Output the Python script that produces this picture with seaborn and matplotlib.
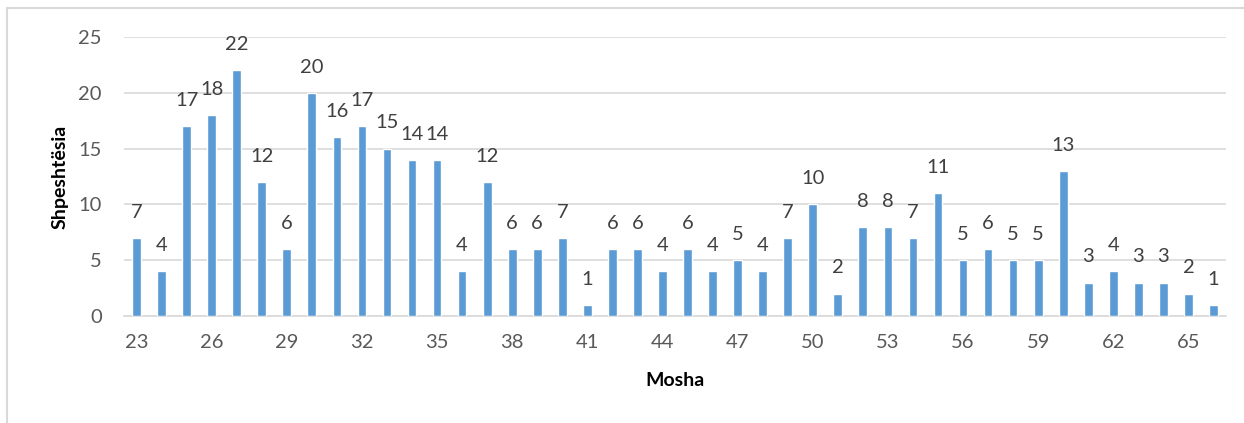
import matplotlib
matplotlib.use("Agg")
import matplotlib.pyplot as plt
import seaborn as sns
import pandas as pd
from matplotlib.patches import Rectangle

# Age distribution data
ages = list(range(23, 67))
counts = [7, 4, 17, 18, 22, 12, 6, 20, 16, 17, 15, 14, 14, 4, 12, 6, 6, 7, 1,
          6, 6, 4, 6, 4, 5, 4, 7, 10, 2, 8, 8, 7, 11, 5, 6, 5, 5, 13, 3, 4, 3,
          3, 2, 1]
x_label = "Mosha"
y_label = "Shpeshtësia"

df = pd.DataFrame({"age": [str(a) for a in ages], "count": counts})

sns.set_theme(style="white")
plt.rcParams["font.family"] = ["Lato", "DejaVu Sans"]

W, H = 1244, 423
fig = plt.figure(figsize=(W / 100, H / 100), dpi=100)
ax = fig.add_axes([124 / W, 1 - 316 / H, (1226 - 124) / W, (316 - 37) / H])

bar_color = "#5B9BD5"
grid_color = "#D9D9D9"

sns.barplot(data=df, x="age", y="count", color=bar_color, width=0.35,
            saturation=1, ax=ax, zorder=3)

ax.set_ylim(0, 25)
ax.set_xlim(-0.5, len(ages) - 0.5)
ax.set_yticks([0, 5, 10, 15, 20, 25])
ax.yaxis.grid(True, color=grid_color, linewidth=1.2, zorder=0)
ax.set_axisbelow(True)

# category labels every third age, tick marks between categories
major = list(range(0, len(ages), 3))
ax.set_xticks(major)
ax.set_xticklabels([str(ages[i]) for i in major])
ax.set_xticks([i - 0.5 for i in range(len(ages) + 1)], minor=True)
ax.tick_params(axis="x", which="major", length=0, pad=13, labelsize=14.5,
               labelcolor="#595959")
ax.tick_params(axis="x", which="minor", length=5, width=1.2, color=grid_color,
               direction="out")
ax.tick_params(axis="y", length=0, pad=16, labelsize=14.5, labelcolor="#595959")

for side in ["top", "right", "left"]:
    ax.spines[side].set_visible(False)
ax.spines["bottom"].set_color(grid_color)
ax.spines["bottom"].set_linewidth(1.2)

# value labels above each bar
for i, v in enumerate(counts):
    ax.annotate(str(v), (i, v), xytext=(0, 18.5), textcoords="offset points",
                ha="center", va="center", fontsize=14.5, color="#404040")

ax.set_xlabel(x_label, fontsize=14, fontweight="bold", color="#000000",
              labelpad=15)
ax.set_ylabel(y_label, fontsize=14, fontweight="bold", color="#000000",
              labelpad=7)

# chart area frame
fig.patches.append(Rectangle((7 / W, -0.1), 1.2, 1 - 8 / H + 0.1,
                             transform=fig.transFigure, fill=False,
                             edgecolor=grid_color, linewidth=1.5))

fig.savefig("out.png", dpi=100)
